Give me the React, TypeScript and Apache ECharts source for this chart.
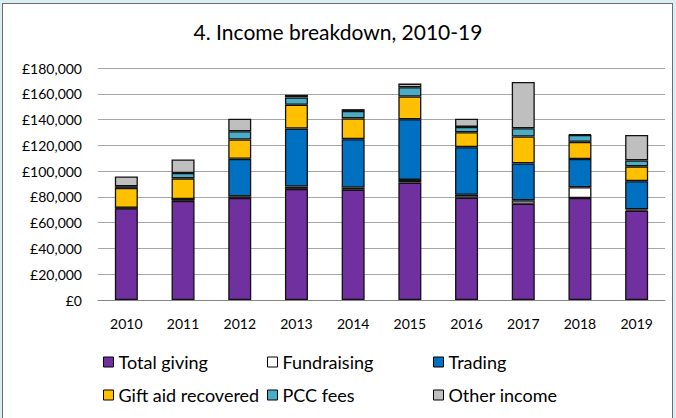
import React, { useEffect, useRef } from "react";
import * as echarts from "echarts";

const years = ["2010", "2011", "2012", "2013", "2014", "2015", "2016", "2017", "2018", "2019"];
const totalGiving = [71000, 76900, 79200, 86200, 85500, 91100, 79300, 74700, 79100, 69300];
const fundraising = [500, 1500, 1300, 1800, 1800, 2100, 2300, 2600, 8400, 1000];
const trading = [0, 0, 29000, 45000, 37500, 47000, 37000, 28700, 21900, 21900];
const giftAid = [15500, 16000, 15000, 18500, 16100, 17700, 11500, 20800, 13300, 11500];
const pccFees = [1300, 4100, 6400, 5700, 5700, 7200, 4200, 6400, 5400, 4600];
const otherIncome = [7600, 10500, 9700, 2000, 1500, 2800, 6400, 36000, 500, 19800];
const yTicks = [0, 20000, 40000, 60000, 80000, 100000, 120000, 140000, 160000, 180000];

const seriesDefs = [
  { name: "Total giving", data: totalGiving, color: "#7030A0" },
  { name: "Fundraising", data: fundraising, color: "#FFFFFF" },
  { name: "Trading", data: trading, color: "#0070C0" },
  { name: "Gift aid recovered", data: giftAid, color: "#FFC000" },
  { name: "PCC fees", data: pccFees, color: "#4BACC6" },
  { name: "Other income", data: otherIncome, color: "#BFBFBF" },
];

const legendPos = [
  { left: 103, top: 353 },
  { left: 267, top: 353 },
  { left: 433, top: 353 },
  { left: 103, top: 386 },
  { left: 267, top: 386 },
  { left: 433, top: 386 },
];

const FONT = "Lato";

export default function App() {
  const ref = useRef<HTMLDivElement>(null);
  useEffect(() => {
    if (!ref.current) return;
    const chart = echarts.init(ref.current, undefined, { renderer: "svg" });
    chart.setOption({
      animation: false,
      backgroundColor: "transparent",
      textStyle: { fontFamily: FONT, color: "#000" },
      title: {
        text: "4. Income breakdown, 2010-19",
        left: "center",
        top: 21,
        padding: 0,
        textStyle: { fontFamily: FONT, fontSize: 21, fontWeight: "normal", color: "#000" },
      },
      legend: seriesDefs.map((s, i) => ({
        data: [s.name],
        left: legendPos[i].left,
        top: legendPos[i].top,
        padding: 0,
        icon: "rect",
        itemWidth: 10,
        itemHeight: 10,
        itemStyle: { borderColor: "#000", borderWidth: 1 },
        textStyle: { fontFamily: FONT, fontSize: 18, color: "#000" },
        selectedMode: false,
      })),
      grid: { left: 98, right: 11, top: 68, bottom: 118, containLabel: false },
      xAxis: {
        type: "category",
        data: years,
        axisTick: { show: false },
        axisLine: { lineStyle: { color: "#868686", width: 1 } },
        axisLabel: { fontFamily: FONT, fontSize: 14, color: "#000", margin: 16 },
      },
      yAxis: {
        type: "value",
        min: yTicks[0],
        max: yTicks[yTicks.length - 1],
        interval: yTicks[1] - yTicks[0],
        axisLine: { show: false },
        axisTick: { show: false },
        splitLine: { lineStyle: { color: "#A6A6A6", width: 1 } },
        axisLabel: {
          fontFamily: FONT,
          fontSize: 14,
          color: "#000",
          margin: 16,
          formatter: (v: number) => "£" + v.toLocaleString("en-GB"),
        },
      },
      series: seriesDefs.map((s) => ({
        name: s.name,
        type: "bar",
        stack: "total",
        data: s.data,
        barWidth: 23,
        itemStyle: { color: s.color, borderColor: "#111", borderWidth: 1.3 },
      })),
    });
    return () => chart.dispose();
  }, []);
  return (
    <div style={{ position: "fixed", left: 0, top: 0, width: 676, height: 418, background: "#DAEEF3", overflow: "hidden" }}>
      <div
        style={{
          position: "absolute",
          left: 2,
          top: 3,
          width: 671,
          height: 430,
          background: "#FFFFFF",
          border: "1.3px solid #6d6d6d",
          boxSizing: "border-box",
        }}
      />
      <div ref={ref} style={{ position: "absolute", left: 0, top: 0, width: 676, height: 418 }} />
    </div>
  );
}
